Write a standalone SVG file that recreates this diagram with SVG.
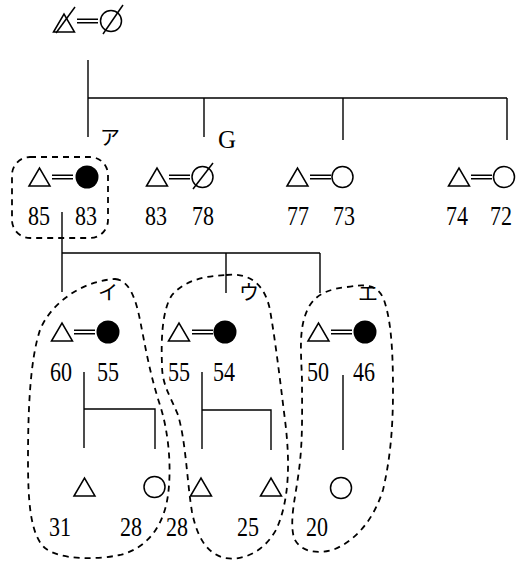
<svg xmlns="http://www.w3.org/2000/svg" width="517" height="564" viewBox="0 0 517 564">
<style>
.ln{stroke:#000;stroke-width:1.4;fill:none}
.sh{stroke:#000;stroke-width:1.5;fill:none}
.fl{fill:#000;stroke:none}
.ds{stroke:#000;stroke-width:1.8;fill:none;stroke-dasharray:6 5}
.num{font-family:"Liberation Serif","Times New Roman",serif;font-size:28px;fill:#000}
.kana{font-family:"Noto Sans CJK JP","Noto Sans CJK SC",sans-serif;font-size:20px;fill:#000}
.lat{font-family:"Liberation Serif",serif;font-size:25px;fill:#000}
</style>
<defs>
<path id="tri" d="M-10.5,9 L0,-9 L10.5,9 Z"/>
<path id="eq" d="M0,-1.8 H21 M0,1.8 H21"/>
</defs>
<rect width="517" height="564" fill="#fff"/>

<g id="connectors">
<path class="ln" d="M88,60 V137 M88,98 H507 M204,98 V137 M343,98 V140 M507,98 V140"/>
<path class="ln" d="M62,212 V292 M62,253 H320 M226,253 V293 M320,253 V293"/>
<path class="ln" d="M84,372 V448 M84,409 H155 V449"/>
<path class="ln" d="M202,372 V449 M202,410 H271 V450"/>
<path class="ln" d="M343,375 V450"/>
</g>

<g id="top">
<use href="#tri" class="sh" x="64" y="23"/>
<path class="sh" d="M56,33 L75,7"/>
<use href="#eq" class="ln" x="77" y="21"/>
<circle class="sh" cx="111" cy="21" r="10.5"/>
<path class="sh" d="M103,34 L123,5"/>
</g>

<g id="labels">
<text class="kana" x="100" y="145">ア</text>
<text class="lat" x="218" y="148">G</text>
<text class="kana" x="98" y="300">イ</text>
<text class="kana" x="239" y="300">ウ</text>
<text class="kana" x="358" y="301">エ</text>
</g>

<g id="coupleA">
<use href="#tri" class="sh" x="39.5" y="177"/>
<use href="#eq" class="ln" x="52" y="177"/>
<circle class="fl" cx="87" cy="177" r="11.5"/>
<text class="num" x="28" y="225" textLength="22" lengthAdjust="spacingAndGlyphs">85</text>
<text class="num" x="75" y="225" textLength="22" lengthAdjust="spacingAndGlyphs">83</text>
<rect class="ds" x="12" y="157" width="96" height="81" rx="18"/>
</g>

<g id="coupleG">
<use href="#tri" class="sh" x="157" y="177"/>
<use href="#eq" class="ln" x="169" y="177"/>
<circle class="sh" cx="202.5" cy="177" r="10.5"/>
<path class="sh" d="M193,189 L213,163"/>
<text class="num" x="145" y="225" textLength="22" lengthAdjust="spacingAndGlyphs">83</text>
<text class="num" x="192" y="225" textLength="22" lengthAdjust="spacingAndGlyphs">78</text>
</g>

<g id="couple3">
<use href="#tri" class="sh" x="297.5" y="177"/>
<use href="#eq" class="ln" x="310" y="177"/>
<circle class="sh" cx="342.5" cy="177" r="10.5"/>
<text class="num" x="287" y="225" textLength="22" lengthAdjust="spacingAndGlyphs">77</text>
<text class="num" x="333" y="225" textLength="22" lengthAdjust="spacingAndGlyphs">73</text>
</g>

<g id="couple4">
<use href="#tri" class="sh" x="459" y="177"/>
<use href="#eq" class="ln" x="471" y="177"/>
<circle class="sh" cx="504" cy="177" r="10.5"/>
<text class="num" x="446" y="225" textLength="22" lengthAdjust="spacingAndGlyphs">74</text>
<text class="num" x="490" y="225" textLength="22" lengthAdjust="spacingAndGlyphs">72</text>
</g>

<g id="coupleI">
<use href="#tri" class="sh" x="62" y="332"/>
<use href="#eq" class="ln" x="74" y="332"/>
<circle class="fl" cx="108" cy="332" r="11.5"/>
<text class="num" x="50" y="381" textLength="22" lengthAdjust="spacingAndGlyphs">60</text>
<text class="num" x="97" y="381" textLength="22" lengthAdjust="spacingAndGlyphs">55</text>
<path class="ds" d="M115,279 C128,280 135,295 140,320 C145,345 150,375 160,405 C168,430 172,465 168,495 C164,525 148,548 120,555 C95,560 60,560 45,548 C30,535 28,500 28,460 C28,410 30,360 40,330 C50,305 80,281 115,279 Z"/>
</g>

<g id="coupleU">
<use href="#tri" class="sh" x="179" y="332"/>
<use href="#eq" class="ln" x="192" y="332"/>
<circle class="fl" cx="225" cy="332" r="11.5"/>
<text class="num" x="168" y="381" textLength="22" lengthAdjust="spacingAndGlyphs">55</text>
<text class="num" x="213" y="381" textLength="22" lengthAdjust="spacingAndGlyphs">54</text>
<path class="ds" d="M226,275 C250,272 265,285 270,310 C276,345 280,380 285,420 C290,460 290,500 276,530 C263,553 242,561 225,558 C207,554 197,537 192,512 C187,482 186,442 178,415 C170,395 162,385 162,365 C161,340 162,310 172,295 C185,280 205,276 226,275 Z"/>
</g>

<g id="coupleE">
<use href="#tri" class="sh" x="318.5" y="332"/>
<use href="#eq" class="ln" x="331" y="332"/>
<circle class="fl" cx="365" cy="332" r="11.5"/>
<text class="num" x="307" y="381" textLength="22" lengthAdjust="spacingAndGlyphs">50</text>
<text class="num" x="353" y="381" textLength="22" lengthAdjust="spacingAndGlyphs">46</text>
<path class="ds" d="M347,287 C365,284 378,284 384,300 C391,320 393,350 393,390 C393,430 390,460 383,490 C375,515 360,538 335,549 C318,555 300,552 294,538 C289,520 296,495 299,470 C303,440 302,410 302,380 C301,350 298,325 310,305 C318,293 330,289 347,287 Z"/>
</g>

<g id="childI1">
<use href="#tri" class="sh" x="84.5" y="487"/>
<text class="num" x="49" y="536" textLength="22" lengthAdjust="spacingAndGlyphs">31</text>
</g>
<g id="childI2">
<circle class="sh" cx="154.5" cy="487" r="10.5"/>
<text class="num" x="120" y="536" textLength="22" lengthAdjust="spacingAndGlyphs">28</text>
</g>
<g id="childU1">
<use href="#tri" class="sh" x="201" y="487"/>
<text class="num" x="166" y="536" textLength="22" lengthAdjust="spacingAndGlyphs">28</text>
</g>
<g id="childU2">
<use href="#tri" class="sh" x="271" y="487"/>
<text class="num" x="237" y="536" textLength="22" lengthAdjust="spacingAndGlyphs">25</text>
</g>
<g id="childE1">
<circle class="sh" cx="341" cy="488" r="10.5"/>
<text class="num" x="306" y="536" textLength="22" lengthAdjust="spacingAndGlyphs">20</text>
</g>
</svg>
